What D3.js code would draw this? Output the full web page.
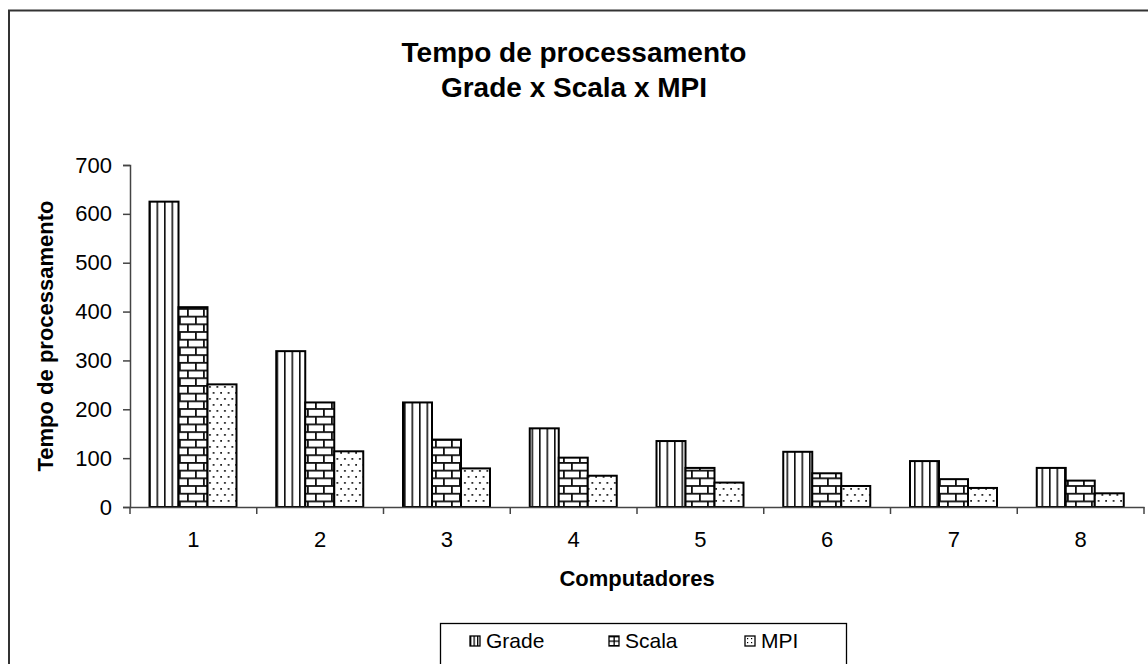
<!DOCTYPE html>
<html><head><meta charset="utf-8">
<script src="https://cdn.jsdelivr.net/npm/d3@7"></script>
<style>body{margin:0;background:#fff}svg{display:block;font-family:"Liberation Sans",Arial,sans-serif}</style>
</head><body>
<svg id="c" width="1148" height="664"></svg>
<script>
const categories = ["1","2","3","4","5","6","7","8"];
const seriesNames = ["Grade","Scala","MPI"];
const grade = [625, 319, 214, 161, 135, 113, 94, 80];
const scala = [409, 214, 138, 101, 80, 69, 57, 54];
const mpi   = [251, 114, 79, 64, 50, 43, 39, 28];
const yTicks = [0,100,200,300,400,500,600,700];
const titleLines = ["Tempo de processamento","Grade x Scala x MPI"];
const yTitle = "Tempo de processamento";
const xTitle = "Computadores";

const svg = d3.select("#c");
const defs = svg.append("defs");

// patterns
const pV = defs.append("pattern").attr("id","pat-grade").attr("patternUnits","userSpaceOnUse")
  .attr("width",7.5).attr("height",8).attr("x",149);
pV.append("rect").attr("width",7.5).attr("height",8).attr("fill","#fff");
pV.append("rect").attr("x",0).attr("width",1.6).attr("height",8).attr("fill","#111");

const pB = defs.append("pattern").attr("id","pat-scala").attr("patternUnits","userSpaceOnUse")
  .attr("width",16).attr("height",15.4).attr("x",178).attr("y",0);
pB.append("rect").attr("width",16).attr("height",15.4).attr("fill","#fff");
pB.append("rect").attr("x",0).attr("y",0).attr("width",16).attr("height",1.8).attr("fill","#111");
pB.append("rect").attr("x",0).attr("y",7.7).attr("width",16).attr("height",1.8).attr("fill","#111");
pB.append("rect").attr("x",9).attr("y",0).attr("width",1.8).attr("height",7.7).attr("fill","#111");
pB.append("rect").attr("x",1).attr("y",7.7).attr("width",1.8).attr("height",7.7).attr("fill","#111");

const pD = defs.append("pattern").attr("id","pat-mpi").attr("patternUnits","userSpaceOnUse")
  .attr("width",7.5).attr("height",12).attr("x",207);
pD.append("rect").attr("width",7.5).attr("height",12).attr("fill","#fff");
pD.append("rect").attr("x",2).attr("y",2).attr("width",1.8).attr("height",1.8).attr("fill","#222");
pD.append("rect").attr("x",5.75).attr("y",8).attr("width",1.8).attr("height",1.8).attr("fill","#222");

const fills = {Grade:"url(#pat-grade)", Scala:"url(#pat-scala)", MPI:"url(#pat-mpi)"};

// outer frame
svg.append("rect").attr("x",9).attr("y",10.5).attr("width",1200).attr("height",700)
  .attr("fill","none").attr("stroke","#333").attr("stroke-width",2);

// title
svg.append("text").attr("x",574).attr("y",62).attr("text-anchor","middle")
  .attr("font-size",28).attr("font-weight","bold").text(titleLines[0]);
svg.append("text").attr("x",574).attr("y",97).attr("text-anchor","middle")
  .attr("font-size",28).attr("font-weight","bold").text(titleLines[1]);

const pLeft = 130, pRight = 1144, pTop = 165, pBottom = 507;
const x0 = d3.scaleBand().domain(categories).range([pLeft,pRight]).padding(0);
const x1 = d3.scaleBand().domain(seriesNames).range([19.5, x0.bandwidth()-20.25]).padding(0);
const y = d3.scaleLinear().domain([0,700]).range([pBottom,pTop]);

const data = categories.map((c,i)=>({c, vals:[grade[i],scala[i],mpi[i]]}));

// bars
const g = svg.append("g");
data.forEach(d=>{
  seriesNames.forEach((s,j)=>{
    g.append("rect")
      .attr("x", x0(d.c)+x1(s))
      .attr("y", y(d.vals[j]))
      .attr("width", x1.bandwidth())
      .attr("height", y(0)-y(d.vals[j]))
      .attr("fill", fills[s]).attr("stroke","#000").attr("stroke-width",2);
  });
});

// y axis
const yAxis = d3.axisLeft(y).tickValues(yTicks).tickSize(7).tickPadding(11);
const ya = svg.append("g").attr("transform",`translate(${pLeft},0)`).call(yAxis);
ya.selectAll("text").attr("font-size",22).attr("font-family","Liberation Sans, Arial, sans-serif").attr("fill","#000");
ya.selectAll("line,path").attr("stroke","#444").attr("stroke-width",1.5);

// x axis
const xAxis = d3.axisBottom(x0).tickSize(0).tickPadding(0);
const xa = svg.append("g").attr("transform",`translate(0,${pBottom})`).call(xAxis);
xa.select(".domain").attr("stroke","#444").attr("stroke-width",1.5);
xa.selectAll(".tick text").attr("font-size",22).attr("font-family","Liberation Sans, Arial, sans-serif").attr("fill","#000").attr("dy",null).attr("y",40);
const sepVals = d3.range(categories.length+1).map(i=>pLeft + i*x0.bandwidth());
xa.selectAll(".sep").data(sepVals).enter().append("line").attr("class","sep")
  .attr("x1",d=>d).attr("x2",d=>d).attr("y1",0).attr("y2",7).attr("stroke","#444").attr("stroke-width",1.5);

// axis titles
svg.append("text").attr("transform","translate(53,336) rotate(-90)").attr("text-anchor","middle")
  .attr("font-size",22).attr("font-weight","bold").text(yTitle);
svg.append("text").attr("x",(pLeft+pRight)/2).attr("y",586).attr("text-anchor","middle")
  .attr("font-size",22).attr("font-weight","bold").text(xTitle);

// legend
const lg = svg.append("g");
lg.append("rect").attr("x",440.5).attr("y",623.5).attr("width",406).attr("height",60)
  .attr("fill","#fff").attr("stroke","#000").attr("stroke-width",1.3);
const legX = [470, 609, 745];
const legFills = {Grade:"url(#lp-grade)", Scala:"url(#lp-scala)", MPI:"url(#lp-mpi)"};
const lpg = defs.append("pattern").attr("id","lp-grade").attr("patternUnits","userSpaceOnUse").attr("width",3.5).attr("height",4).attr("x",470);
lpg.append("rect").attr("width",3.5).attr("height",4).attr("fill","#fff");
lpg.append("rect").attr("width",1.3).attr("height",4).attr("fill","#000");
const lps = defs.append("pattern").attr("id","lp-scala").attr("patternUnits","userSpaceOnUse").attr("width",10).attr("height",4.5).attr("x",609).attr("y",636);
lps.append("rect").attr("width",10).attr("height",4.5).attr("fill","#fff");
lps.append("rect").attr("y",0).attr("width",10).attr("height",1.3).attr("fill","#000");
lps.append("rect").attr("x",4.5).attr("width",1.3).attr("height",4.5).attr("fill","#000");
const lpm = defs.append("pattern").attr("id","lp-mpi").attr("patternUnits","userSpaceOnUse").attr("width",4).attr("height",4).attr("x",745).attr("y",636);
lpm.append("rect").attr("width",4).attr("height",4).attr("fill","#fff");
lpm.append("rect").attr("x",2).attr("y",2).attr("width",1.2).attr("height",1.2).attr("fill","#000");
seriesNames.forEach((s,i)=>{
  lg.append("rect").attr("x",legX[i]).attr("y",636).attr("width",10).attr("height",10)
    .attr("fill",legFills[s]).attr("stroke","#000").attr("stroke-width",1.3);
  lg.append("text").attr("x",legX[i]+16).attr("y",648).attr("font-size",21).text(s);
});
</script>
</body></html>
